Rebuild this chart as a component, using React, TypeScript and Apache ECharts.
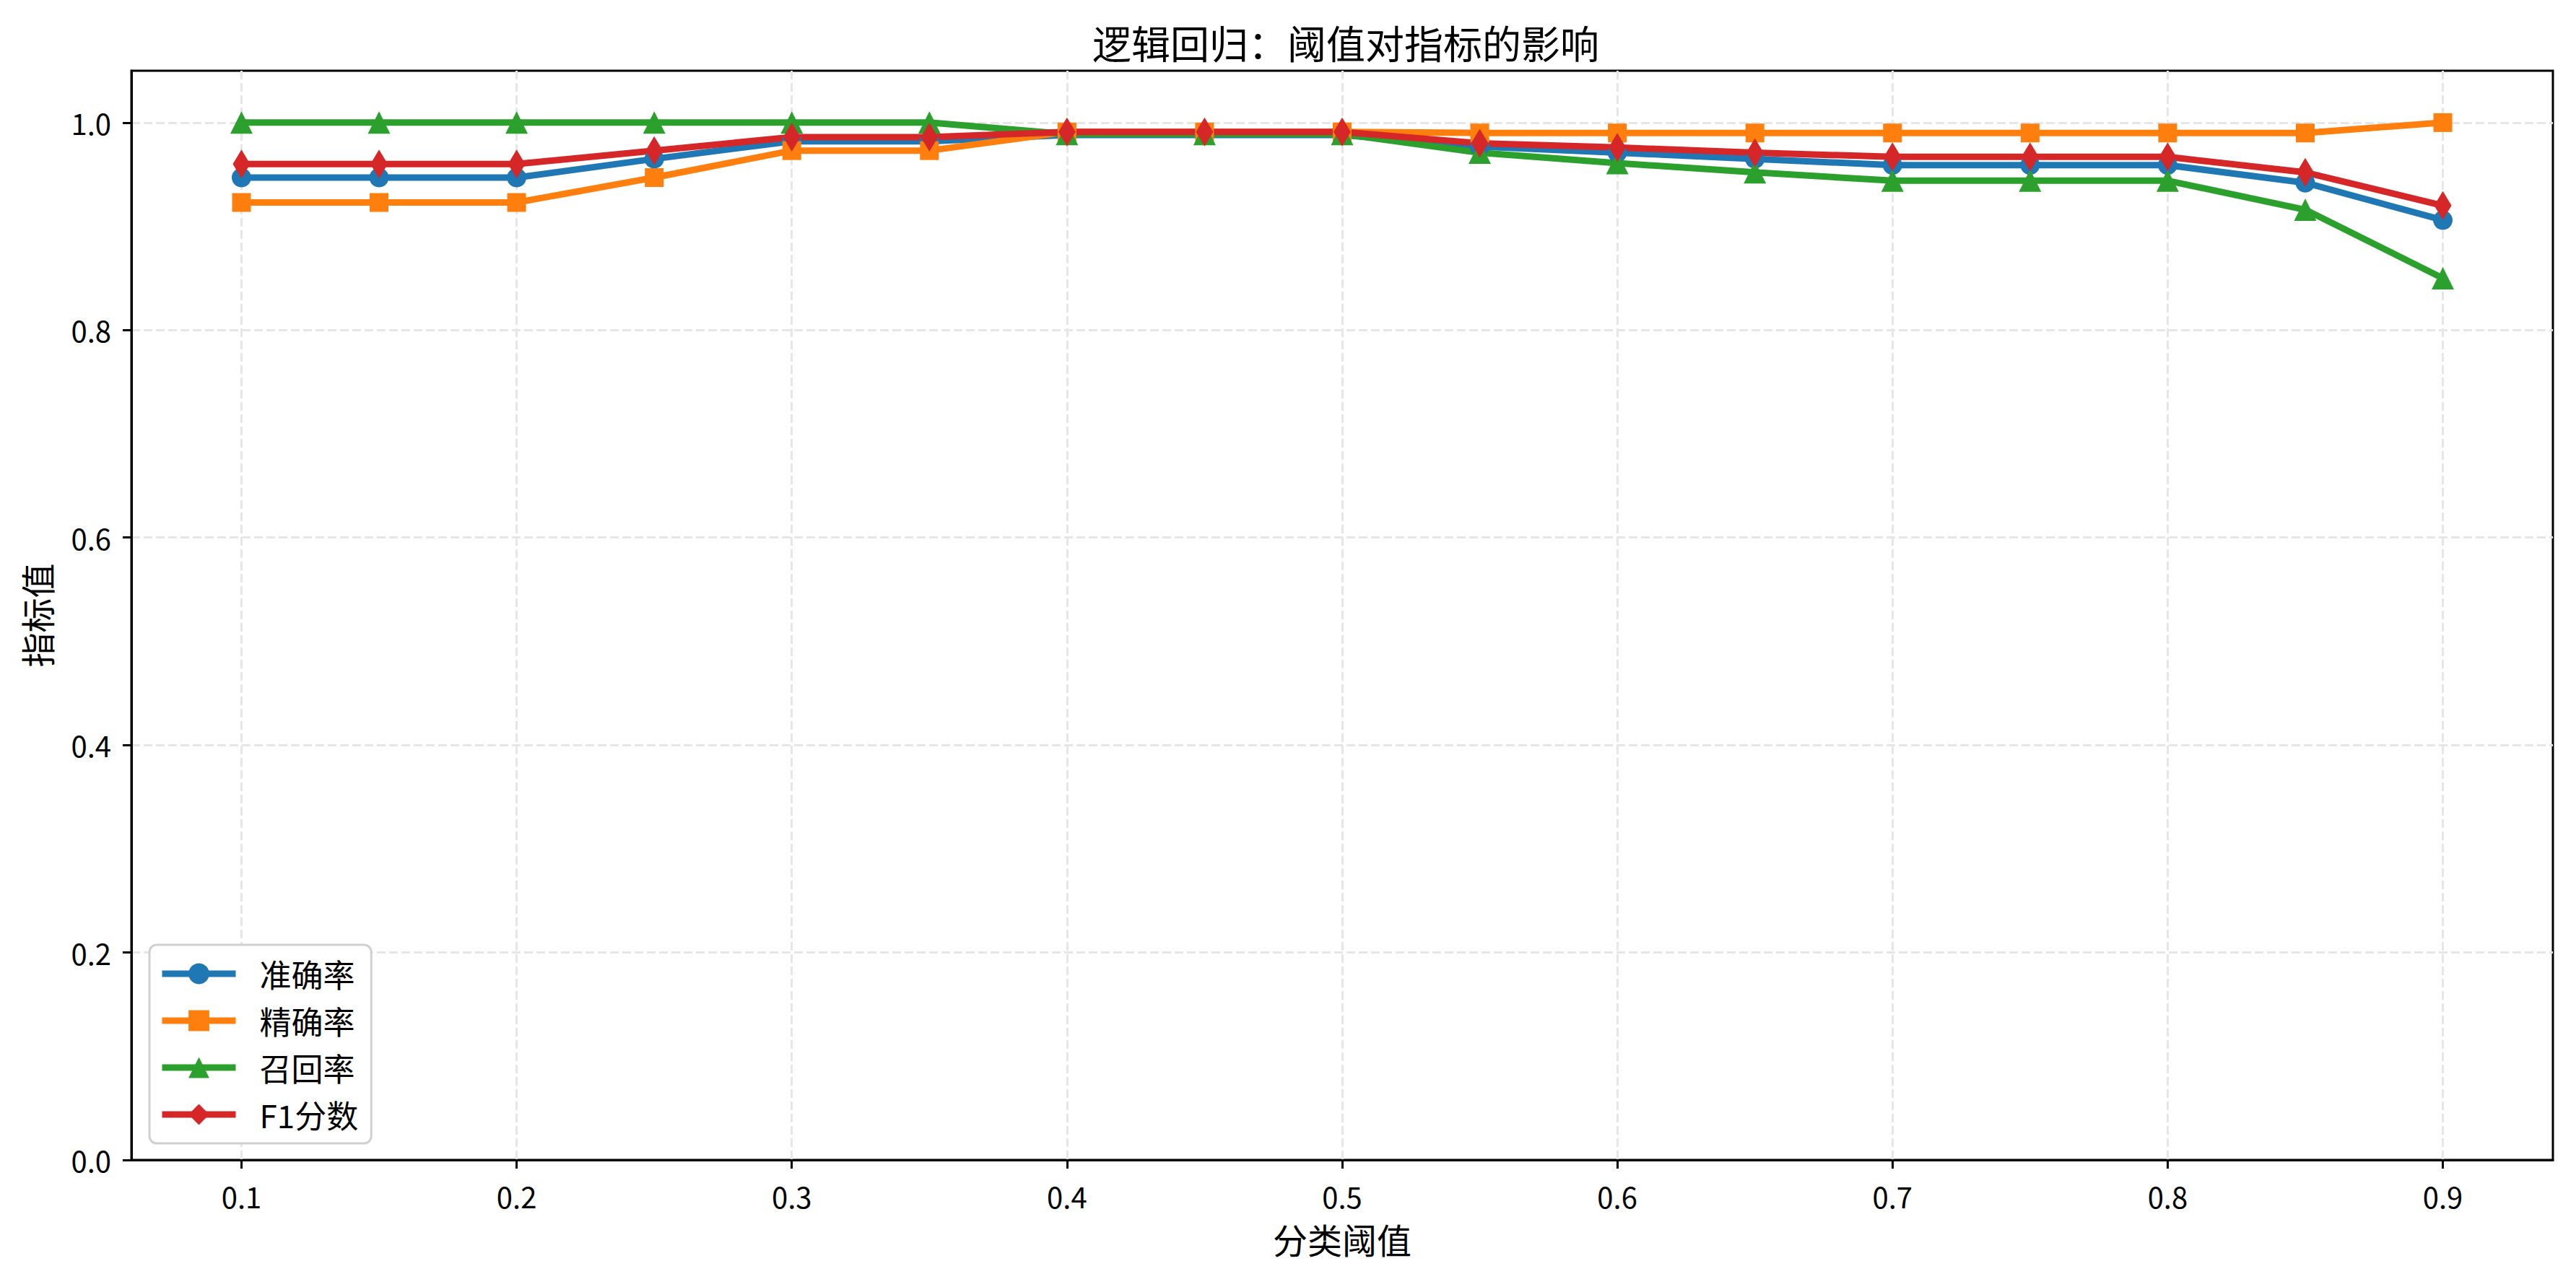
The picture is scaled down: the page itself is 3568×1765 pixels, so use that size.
import React, { useEffect, useRef } from "react";
import * as echarts from "echarts";

const thresholds = [0.1, 0.15, 0.2, 0.25, 0.3, 0.35, 0.4, 0.45, 0.5, 0.55, 0.6, 0.65, 0.7, 0.75, 0.8, 0.85, 0.9];
const accuracy = [0.947, 0.947, 0.947, 0.965, 0.982, 0.982, 0.988, 0.988, 0.988, 0.977, 0.971, 0.965, 0.959, 0.959, 0.959, 0.942, 0.906];
const precision = [0.923, 0.923, 0.923, 0.947, 0.973, 0.973, 0.991, 0.991, 0.991, 0.990, 0.990, 0.990, 0.990, 0.990, 0.990, 0.990, 1.0];
const recall = [1, 1, 1, 1, 1, 1, 0.989, 0.989, 0.989, 0.971, 0.961, 0.952, 0.944, 0.944, 0.944, 0.916, 0.85];
const f1 = [0.96, 0.96, 0.96, 0.973, 0.986, 0.986, 0.991, 0.991, 0.991, 0.98, 0.976, 0.971, 0.967, 0.967, 0.967, 0.952, 0.92];

const xTicks = [0.1, 0.2, 0.3, 0.4, 0.5, 0.6, 0.7, 0.8, 0.9];
const yTicks = [0, 0.2, 0.4, 0.6, 0.8, 1.0];

const seriesNames = ["准确率", "精确率", "召回率", "F1分数"];
const colors = ["#1f77b4", "#ff7f0e", "#2ca02c", "#d62728"];

const FONT = "'Noto Sans CJK SC', 'Noto Sans', sans-serif";

export default function App() {
  const ref = useRef<HTMLDivElement>(null);
  useEffect(() => {
    document.body.style.margin = "0";
    const chart = echarts.init(ref.current!, null, { renderer: "svg" });
    const mk = (name: string, data: number[], color: string, symbol: string, size: any) => ({
      name,
      type: "line",
      data: thresholds.map((x, i) => [x, data[i]]),
      symbol,
      symbolSize: size,
      showSymbol: true,
      clip: false,
      lineStyle: { color, width: 9 },
      itemStyle: { color, borderWidth: 0 },
      emphasis: { disabled: true },
    });
    const gridLine = { show: true, lineStyle: { color: "#e6e6e6", width: 3, type: [12, 5] } };
    chart.setOption({
      animation: false,
      backgroundColor: "#fff",
      textStyle: { fontFamily: FONT },
      title: {
        text: "逻辑回归：阈值对指标的影响",
        left: 1859,
        textAlign: "center",
        top: 26,
        textStyle: { fontSize: 54, fontWeight: "normal", color: "#000", fontFamily: FONT },
      },
      grid: {
        left: 182,
        top: 98,
        width: 3354,
        height: 1509,
        show: true,
        borderColor: "#000",
        borderWidth: 3,
        backgroundColor: "transparent",
      },
      legend: {
        orient: "vertical",
        left: 207,
        top: 1309,
        data: seriesNames,
        itemWidth: 102,
        itemHeight: 36,
        itemGap: 21,
        padding: [18, 18, 18, 13],
        backgroundColor: "#fff",
        borderColor: "#d0d0d0",
        borderWidth: 3,
        borderRadius: 10,
        lineStyle: { width: 9 },
        itemStyle: { borderWidth: 0 },
        textStyle: { fontSize: 44, color: "#000", fontFamily: FONT, padding: [0, 0, 0, 28] },
      },
      xAxis: {
        type: "value",
        min: 0.06,
        max: 0.94,
        name: "分类阈值",
        nameLocation: "middle",
        nameGap: 85,
        nameTextStyle: { fontSize: 48, color: "#000", fontFamily: FONT },
        axisLine: { show: true, lineStyle: { color: "#000", width: 3 } },
        axisTick: { show: true, inside: false, length: 12, lineStyle: { color: "#000", width: 3 }, customValues: xTicks },
        axisLabel: {
          fontSize: 40,
          color: "#000",
          margin: 30,
          fontFamily: FONT,
          customValues: xTicks,
          formatter: (v: number) => v.toFixed(1),
        },
        splitLine: gridLine,
      },
      yAxis: {
        type: "value",
        min: 0,
        max: 1.05,
        name: "指标值",
        nameLocation: "middle",
        nameGap: 108,
        nameTextStyle: { fontSize: 48, color: "#000", fontFamily: FONT },
        axisLine: { show: true, lineStyle: { color: "#000", width: 3 } },
        axisTick: { show: true, inside: false, length: 12, lineStyle: { color: "#000", width: 3 }, customValues: yTicks },
        axisLabel: {
          fontSize: 40,
          color: "#000",
          margin: 28,
          fontFamily: FONT,
          customValues: yTicks,
          formatter: (v: number) => v.toFixed(1),
        },
        splitLine: gridLine,
      },
      series: [
        mk(seriesNames[0], accuracy, colors[0], "circle", 27),
        mk(seriesNames[1], precision, colors[1], "rect", 26),
        mk(seriesNames[2], recall, colors[2], "triangle", 31),
        mk(seriesNames[3], f1, colors[3], "diamond", [24, 40]),
      ],
    });
    return () => chart.dispose();
  }, []);
  return <div ref={ref} style={{ width: 3568, height: 1765, position: "absolute", left: 0, top: 0 }} />;
}
